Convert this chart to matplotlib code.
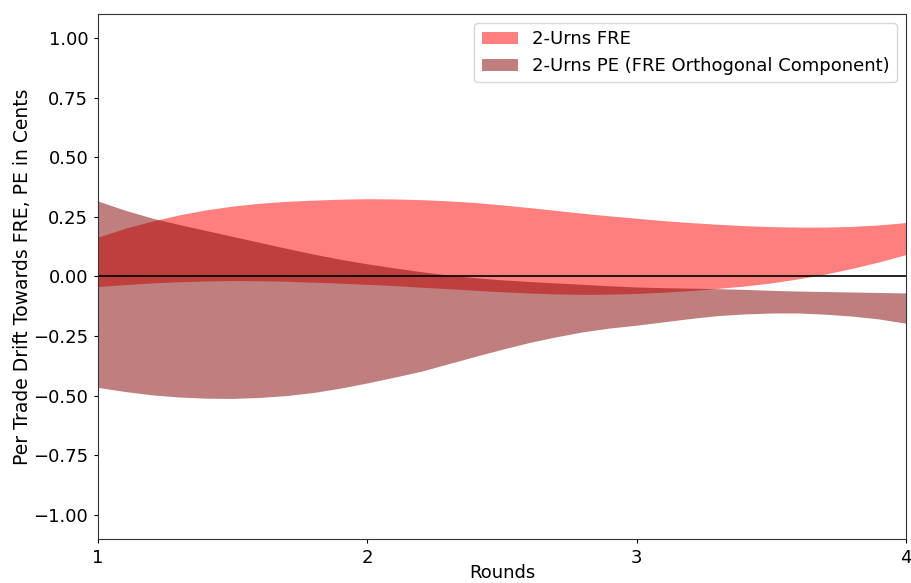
import matplotlib
matplotlib.use("Agg")
import matplotlib.pyplot as plt

# rounds grid the bands were read on (1.0 .. 4.0, step 0.1)
rounds = [round(1 + 0.1 * i, 1) for i in range(31)]

fre_upper = [0.165, 0.202, 0.232, 0.258, 0.279, 0.295, 0.307, 0.315, 0.320, 0.324,
             0.326, 0.325, 0.322, 0.317, 0.310, 0.300, 0.289, 0.277, 0.265, 0.254,
             0.244, 0.234, 0.226, 0.219, 0.213, 0.209, 0.207, 0.207, 0.210, 0.216,
             0.226]
fre_lower = [-0.042, -0.034, -0.027, -0.022, -0.019, -0.017, -0.018, -0.020, -0.024, -0.028,
             -0.033, -0.038, -0.045, -0.051, -0.058, -0.064, -0.069, -0.073, -0.075, -0.074,
             -0.071, -0.066, -0.059, -0.050, -0.040, -0.027, -0.010, 0.010, 0.034, 0.061,
             0.092]

pe_upper = [0.316, 0.278, 0.245, 0.218, 0.193, 0.168, 0.143, 0.118, 0.094, 0.072,
            0.053, 0.036, 0.020, 0.006, -0.005, -0.014, -0.021, -0.027, -0.033, -0.039,
            -0.044, -0.047, -0.049, -0.051, -0.054, -0.058, -0.061, -0.063, -0.065, -0.067,
            -0.069]
pe_lower = [-0.465, -0.482, -0.496, -0.505, -0.510, -0.511, -0.507, -0.499, -0.486, -0.468,
            -0.446, -0.422, -0.397, -0.366, -0.335, -0.305, -0.277, -0.253, -0.232, -0.216,
            -0.204, -0.190, -0.176, -0.164, -0.157, -0.153, -0.153, -0.158, -0.166, -0.178,
            -0.196]

x_ticks = [1, 2, 3, 4]
y_ticks = [-1.0, -0.75, -0.5, -0.25, 0.0, 0.25, 0.5, 0.75, 1.0]

fig = plt.figure(figsize=(9.11, 5.83), dpi=100)
ax = fig.add_axes([0.1076, 0.0755, 0.8869, 0.9005])

ax.fill_between(rounds, fre_lower, fre_upper, color="red", alpha=0.5, linewidth=0,
                label="2-Urns FRE")
ax.fill_between(rounds, pe_lower, pe_upper, color="maroon", alpha=0.5, linewidth=0,
                label="2-Urns PE (FRE Orthogonal Component)")
ax.axhline(0, color="black", linewidth=1.2)

ax.set_xlim(1, 4)
ax.set_ylim(-1.1, 1.1)
ax.set_xticks(x_ticks)
ax.set_yticks(y_ticks)
ax.set_yticklabels([f"{v:.2f}".replace("-", "\u2212") for v in y_ticks])
ax.tick_params(labelsize=13, length=3, pad=4)
for spine in ax.spines.values():
    spine.set_color("#333333")

ax.set_xlabel("Rounds", fontsize=13, va="top")
ax.xaxis.set_label_coords(0.5, -0.047)
ax.set_ylabel("Per Trade Drift Towards FRE, PE in Cents", fontsize=13.5, labelpad=1)
ax.legend(loc="upper right", fontsize=13)

fig.savefig("out.png", dpi=100, facecolor="white")
